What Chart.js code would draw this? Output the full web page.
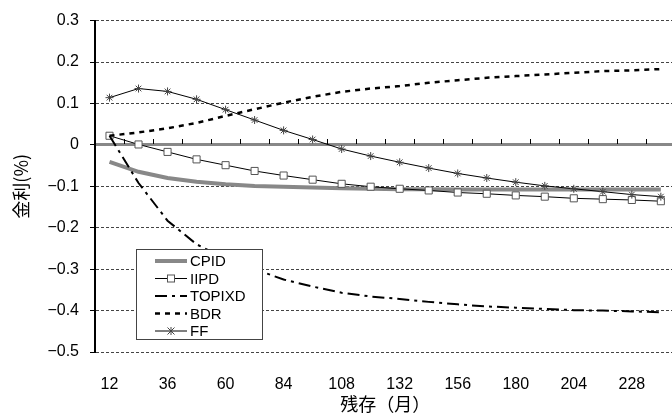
<!DOCTYPE html>
<html>
<head>
<meta charset="utf-8">
<script src="https://cdn.jsdelivr.net/npm/chart.js@4"></script>
<style>
  html, body { margin: 0; padding: 0; background: #fff; overflow: hidden; }
  #wrap { width: 684px; height: 419px; }
</style>
</head>
<body>
<div id="wrap"><canvas id="myChart" width="684" height="419"></canvas></div>
<script>
// 残存(月)
let months = [12, 24, 36, 48, 60, 72, 84, 96, 108, 120, 132, 144, 156, 168, 180, 192, 204, 216, 228, 240];

// 金利(%)
let cpid = [-0.041, -0.065, -0.080, -0.089, -0.095, -0.099, -0.101, -0.103, -0.105, -0.106, -0.107, -0.107, -0.108, -0.108, -0.108, -0.108, -0.108, -0.108, -0.108, -0.108];
let iipd = [0.022, 0.001, -0.017, -0.035, -0.049, -0.063, -0.074, -0.084, -0.094, -0.101, -0.106, -0.110, -0.115, -0.118, -0.122, -0.125, -0.129, -0.131, -0.133, -0.136];
let topixd = [0.022, -0.092, -0.183, -0.240, -0.275, -0.300, -0.325, -0.342, -0.357, -0.366, -0.372, -0.379, -0.385, -0.390, -0.393, -0.396, -0.399, -0.400, -0.402, -0.404];
let bdr = [0.022, 0.030, 0.040, 0.053, 0.070, 0.086, 0.102, 0.116, 0.128, 0.136, 0.142, 0.150, 0.156, 0.162, 0.166, 0.170, 0.174, 0.178, 0.180, 0.183];
let ff = [0.114, 0.136, 0.129, 0.110, 0.085, 0.060, 0.035, 0.013, -0.010, -0.027, -0.042, -0.056, -0.069, -0.080, -0.090, -0.099, -0.106, -0.113, -0.120, -0.125];

let fontFamily = '"Liberation Sans", Arial, sans-serif';
let cjkFamily = '"Noto Sans CJK JP", sans-serif';

// zero line tick marks (between categories, pointing up)
let zeroTicks = {
  id: 'zeroTicks',
  beforeDatasetsDraw(chart) {
    let ctx = chart.ctx;
    let x = chart.scales.x, y = chart.scales.y;
    let y0 = Math.round(y.getPixelForValue(0));
    let step = x.getPixelForValue(1) - x.getPixelForValue(0);
    ctx.save();
    ctx.strokeStyle = '#000';
    ctx.lineWidth = 1;
    for (let i = 1; i < months.length; i++) {
      let px = Math.round(x.getPixelForValue(i) - step / 2) + 0.5;
      ctx.beginPath();
      ctx.moveTo(px, y0 - 1);
      ctx.lineTo(px, y0 - 6);
      ctx.stroke();
    }
    ctx.restore();
  }
};

function drawMarker(ctx, style, cx, cy) {
  ctx.save();
  ctx.setLineDash([]);
  ctx.lineWidth = 1;
  if (style === 'rect') {
    ctx.fillStyle = '#fff';
    ctx.strokeStyle = '#555';
    ctx.fillRect(cx - 3.5, cy - 3.5, 7, 7);
    ctx.strokeRect(cx - 3.5, cy - 3.5, 7, 7);
  } else if (style === 'star') {
    ctx.strokeStyle = '#444';
    ctx.beginPath();
    ctx.moveTo(cx - 3.5, cy - 3.5); ctx.lineTo(cx + 3.5, cy + 3.5);
    ctx.moveTo(cx - 3.5, cy + 3.5); ctx.lineTo(cx + 3.5, cy - 3.5);
    ctx.moveTo(cx, cy - 4); ctx.lineTo(cx, cy + 4);
    ctx.stroke();
  }
  ctx.restore();
}

// legend box inside the plot
let boxLegend = {
  id: 'boxLegend',
  afterDatasetsDraw(chart) {
    let ctx = chart.ctx;
    let bx = 136, by = 249, bw = 126, bh = 90;
    ctx.save();
    ctx.fillStyle = '#fff';
    ctx.fillRect(bx, by, bw, bh);
    ctx.strokeStyle = '#444';
    ctx.lineWidth = 1;
    ctx.strokeRect(bx + 0.5, by + 0.5, bw, bh);
    chart.data.datasets.forEach((ds, i) => {
      let cy = by + 12 + i * 17.5;
      ctx.save();
      ctx.strokeStyle = ds.borderColor;
      ctx.lineWidth = ds.borderWidth;
      ctx.setLineDash(ds.borderDash || []);
      ctx.beginPath();
      ctx.moveTo(155, cy);
      ctx.lineTo(187, cy);
      ctx.stroke();
      ctx.restore();
      if (ds.pointRadius > 0) drawMarker(ctx, ds.pointStyle, 171, cy);
      ctx.fillStyle = '#000';
      ctx.font = '15px ' + fontFamily;
      ctx.textBaseline = 'middle';
      ctx.fillText(ds.label, 190, cy + 1);
    });
    ctx.restore();
  }
};

let myChart = document.getElementById('myChart').getContext('2d');

let chart = new Chart(myChart, {
  type: 'line',
  data: {
    labels: months,
    datasets: [
      {
        label: 'CPID', data: cpid, borderColor: '#888', borderWidth: 4,
        pointRadius: 0, tension: 0, order: 4
      },
      {
        label: 'IIPD', data: iipd, borderColor: '#000', borderWidth: 1,
        pointStyle: 'rect', pointRadius: 5, pointBorderColor: '#555',
        pointBackgroundColor: '#fff', pointBorderWidth: 1, tension: 0, order: 3
      },
      {
        label: 'TOPIXD', data: topixd, borderColor: '#000', borderWidth: 2,
        borderDash: [12, 5, 3, 5], pointRadius: 0, tension: 0, order: 2
      },
      {
        label: 'BDR', data: bdr, borderColor: '#000', borderWidth: 2.5,
        borderDash: [5, 5], pointRadius: 0, tension: 0, order: 1
      },
      {
        label: 'FF', data: ff, borderColor: '#000', borderWidth: 1,
        pointStyle: 'star', pointRadius: 4, pointBorderColor: '#444',
        pointBorderWidth: 1, tension: 0, order: 0
      }
    ]
  },
  options: {
    responsive: false,
    animation: false,
    layout: { padding: { left: 0, right: 5, top: 16, bottom: 0 } },
    plugins: {
      legend: { display: false },
      tooltip: { enabled: false }
    },
    scales: {
      x: {
        type: 'category',
        offset: true,
        grid: { display: false, drawTicks: false },
        border: { display: false },
        ticks: {
          color: '#000',
          font: { family: fontFamily, size: 16 },
          autoSkip: false,
          maxRotation: 0,
          padding: 23,
          callback: (v, i) => (i % 2 === 0 ? String(months[i]) : '')
        },
        title: {
          display: true,
          text: '残存（月）',
          color: '#000',
          font: { family: cjkFamily, size: 18 },
          padding: { top: 0, bottom: 4 }
        },
        afterFit: s => { s.height = 67; }
      },
      y: {
        min: -0.5,
        max: 0.3,
        ticks: {
          stepSize: 0.1,
          color: '#000',
          font: { family: fontFamily, size: 16 },
          padding: 11,
          callback: v => {
            let r = Math.round(v * 10) / 10;
            return r === 0 ? '0' : String(r).replace('-', '−');
          }
        },
        grid: {
          color: c => (Math.abs(c.tick.value) < 1e-9 ? '#888' : '#444'),
          lineWidth: c => (Math.abs(c.tick.value) < 1e-9 ? 3 : 1),
          tickColor: '#000',
          tickWidth: 1,
          tickLength: 5,
          tickBorderDash: []
        },
        border: {
          display: true,
          color: '#000',
          width: 2,
          dash: c => (Math.abs(c.tick.value) < 1e-9 ? [] : [3, 2])
        },
        title: {
          display: true,
          text: '金利(%)',
          color: '#000',
          font: { family: cjkFamily, size: 18 },
          padding: { top: 10, bottom: 0 }
        },
        afterFit: s => { s.width = 95; }
      }
    }
  },
  plugins: [zeroTicks, boxLegend]
});
</script>
</body>
</html>
